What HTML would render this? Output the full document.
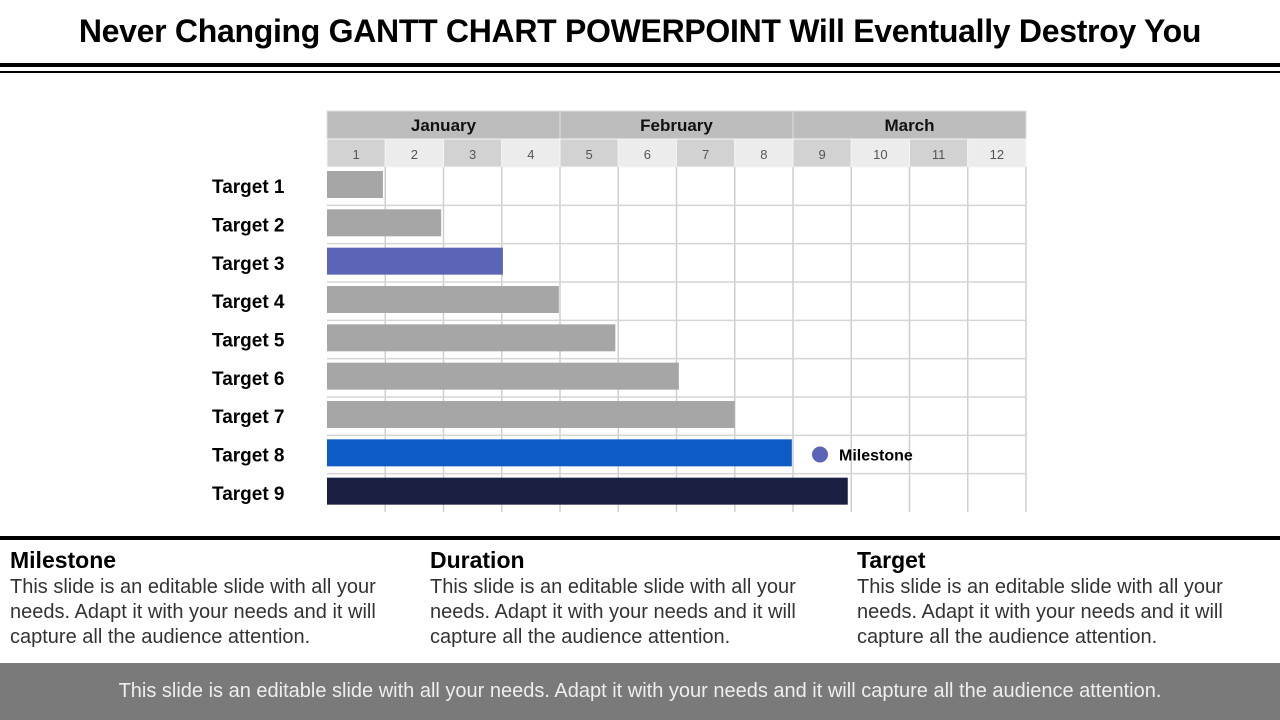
<!DOCTYPE html>
<html><head><meta charset="utf-8"><style>
body{margin:0;width:1280px;height:720px;overflow:hidden;background:#fff;font-family:"Liberation Sans",sans-serif;position:relative}
.t{position:absolute;left:0;width:1280px;top:13px;text-align:center;font-weight:bold;font-size:32px;color:#000;letter-spacing:-0.3px}
.l{position:absolute;left:0;width:1280px;background:#000}
.col{position:absolute;top:545px;width:410px}
.col h3{margin:0;font-size:23px;font-weight:bold;line-height:30px;color:#000}
.col p{margin:0;font-size:20px;line-height:25px;color:#333}
.foot{position:absolute;left:0;top:663px;width:1280px;height:57px;background:#7a7a7a;color:#eee;font-size:20px;line-height:57px;text-align:center}
</style></head><body>
<div class="t">Never Changing GANTT CHART POWERPOINT Will Eventually Destroy You</div>
<div class="l" style="top:63px;height:4px"></div>
<div class="l" style="top:71px;height:2px"></div>
<svg id="chart" width="1280" height="540" style="position:absolute;left:0;top:0"></svg>
<div class="l" style="top:536px;height:4px"></div>
<div class="col" style="left:10px"><h3>Milestone</h3><p>This slide is an editable slide with all your needs. Adapt it with your needs and it will capture all the audience attention.</p></div>
<div class="col" style="left:430px"><h3>Duration</h3><p>This slide is an editable slide with all your needs. Adapt it with your needs and it will capture all the audience attention.</p></div>
<div class="col" style="left:857px"><h3>Target</h3><p>This slide is an editable slide with all your needs. Adapt it with your needs and it will capture all the audience attention.</p></div>
<div class="foot">This slide is an editable slide with all your needs. Adapt it with your needs and it will capture all the audience attention.</div>
<script>
const months=["January","February","March"];
const weeks=["1","2","3","4","5","6","7","8","9","10","11","12"];
const targets=["Target 1","Target 2","Target 3","Target 4","Target 5","Target 6","Target 7","Target 8","Target 9"];
const durations=[0.96,1.96,3.02,3.98,4.95,6.04,7.0,7.98,8.94];
const barColors=["#a6a6a6","#a6a6a6","#5c64b8","#a6a6a6","#a6a6a6","#a6a6a6","#a6a6a6","#0d5bc6","#1b1f42"];
const NS="http://www.w3.org/2000/svg";
const svg=document.getElementById('chart');
const x0=327,colW=(1026-327)/12,y0=167,rowH=(512-167)/9;
const xs=w=>x0+w*colW, ys=r=>y0+r*rowH;
function mk(t,a,p){const e=document.createElementNS(NS,t);for(const k in a)e.setAttribute(k,a[k]);(p||svg).appendChild(e);return e;}
months.forEach((m,i)=>{
 const r=mk('rect',{x:xs(i*4),y:111,width:colW*4,height:28,fill:'#bdbdbd',stroke:'#e0e0e0','stroke-width':1});
 
 const t=mk('text',{x:xs(i*4+2),y:131,'text-anchor':'middle','font-size':17,'font-weight':'bold','font-family':'Liberation Sans, sans-serif',fill:'#111'});t.textContent=m;
 
});
weeks.forEach((w,i)=>{
 const r=mk('rect',{x:xs(i),y:139,width:colW,height:28,fill:i%2?'#ececec':'#d2d2d2',stroke:'#f4f4f4','stroke-width':1});
 
 const t=mk('text',{x:xs(i+0.5),y:159,'text-anchor':'middle','font-size':13,'font-family':'Liberation Sans, sans-serif',fill:'#555'});t.textContent=w;
 
});
for(let i=1;i<=12;i++){const l=mk('line',{x1:xs(i),x2:xs(i),y1:167,y2:512,stroke:'#cfcfcf','stroke-width':1.5});}
for(let r=1;r<9;r++){const l=mk('line',{x1:x0,x2:1026,y1:ys(r),y2:ys(r),stroke:'#d5d5d5','stroke-width':1.5});}
targets.forEach((n,i)=>{
 const t=mk('text',{x:212,y:ys(i+0.5)+7,'font-size':19,'font-weight':'bold','font-family':'Liberation Sans, sans-serif',fill:'#000'});t.textContent=n;
 
 const b=mk('rect',{x:x0,y:ys(i)+4,width:xs(durations[i])-x0,height:27,fill:barColors[i]});
 
});
const c=mk('circle',{cx:820,cy:ys(7.5),r:8,fill:'#5c64b8'});
const mt=mk('text',{x:839,y:ys(7.5)+6,'font-size':16,'font-weight':'bold','font-family':'Liberation Sans, sans-serif',fill:'#000'});mt.textContent='Milestone';

</script>
</body></html>
